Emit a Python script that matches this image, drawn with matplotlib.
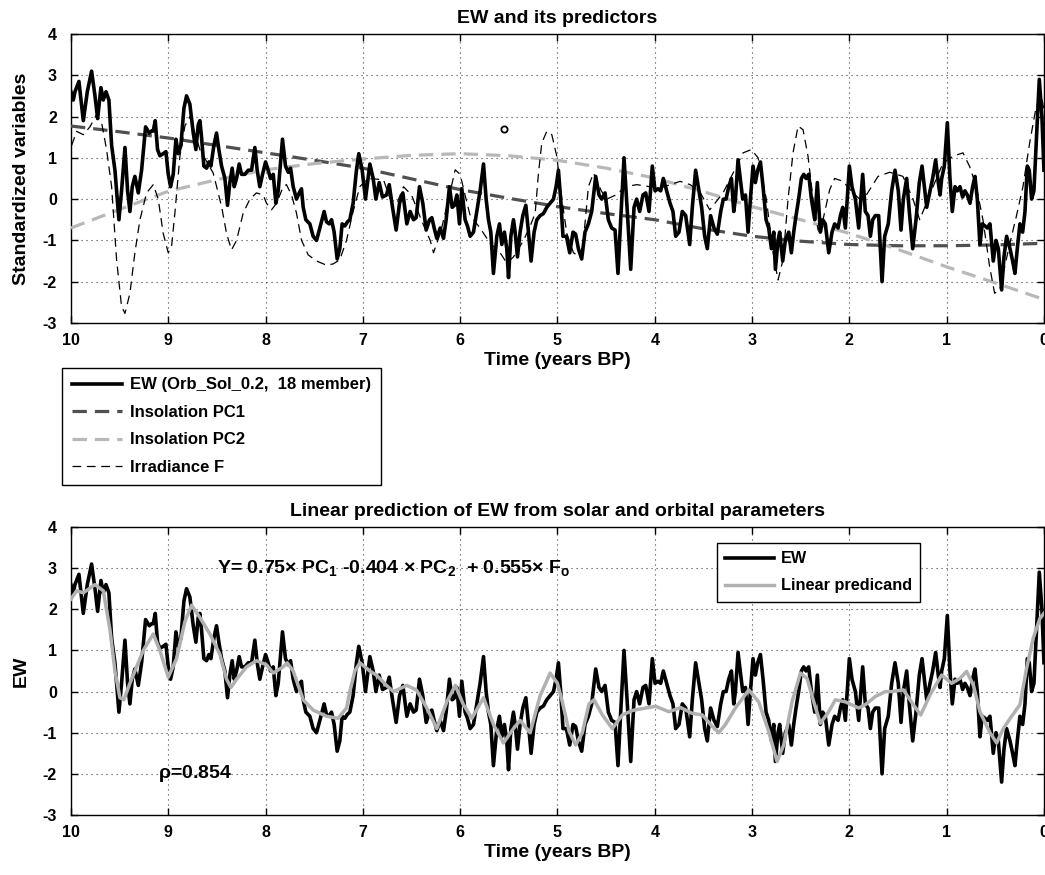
import numpy as np
import matplotlib
matplotlib.use("Agg")
import matplotlib.pyplot as plt

plt.rcParams['font.family'] = ['Liberation Sans', 'DejaVu Sans']
plt.rcParams['font.weight'] = 'bold'
plt.rcParams['mathtext.fontset'] = 'custom'
plt.rcParams['mathtext.rm'] = 'Liberation Sans:bold'
plt.rcParams['mathtext.it'] = 'Liberation Sans:bold'
plt.rcParams['mathtext.bf'] = 'Liberation Sans:bold'
plt.rcParams['mathtext.default'] = 'bf'

# ---- data (time in years BP) ----
ew_t = [10.00, 9.976, 9.959, 9.918, 9.873, 9.832, 9.788, 9.753, 9.726, 9.692, 9.668, 9.640, 9.610,
        9.582, 9.548, 9.507, 9.480, 9.445, 9.418, 9.394, 9.370, 9.343, 9.308, 9.274, 9.233, 9.195,
        9.171, 9.154, 9.134, 9.110, 9.086, 9.052, 9.024, 9.000, 8.976, 8.949, 8.921, 8.897, 8.870,
        8.839, 8.812, 8.778, 8.743, 8.716, 8.692, 8.675, 8.658, 8.634, 8.606, 8.582, 8.562, 8.531,
        8.504, 8.480, 8.452, 8.418, 8.391, 8.367, 8.343, 8.322, 8.298, 8.271, 8.247, 8.213, 8.178,
        8.144, 8.110, 8.086, 8.059, 8.031, 8.000, 7.973, 7.949, 7.921, 7.894, 7.870, 7.826, 7.795,
        7.767, 7.743, 7.716, 7.682, 7.654, 7.631, 7.613, 7.586, 7.545, 7.511, 7.476, 7.442, 7.398,
        7.374, 7.346, 7.322, 7.295, 7.264, 7.237, 7.213, 7.185, 7.158, 7.134, 7.100, 7.066, 7.042,
        7.007, 6.973, 6.928, 6.894, 6.866, 6.832, 6.798, 6.757, 6.729, 6.695, 6.658, 6.623, 6.589,
        6.548, 6.514, 6.479, 6.452, 6.418, 6.384, 6.349, 6.315, 6.291, 6.267, 6.240, 6.205, 6.171,
        6.144, 6.110, 6.082, 6.058, 6.034, 6.007, 5.983, 5.949, 5.925, 5.897, 5.863, 5.829, 5.795,
        5.760, 5.733, 5.709, 5.685, 5.658, 5.623, 5.596, 5.572, 5.545, 5.521, 5.503, 5.479, 5.452,
        5.435, 5.411, 5.384, 5.356, 5.325, 5.298, 5.271, 5.240, 5.212, 5.178, 5.144, 5.110, 5.075,
        5.041, 5.014, 4.990, 4.967, 4.943, 4.908, 4.874, 4.840, 4.813, 4.785, 4.751, 4.717, 4.682,
        4.648, 4.624, 4.607, 4.573, 4.545, 4.511, 4.477, 4.443, 4.408, 4.378, 4.350, 4.316, 4.282,
        4.247, 4.213, 4.186, 4.155, 4.121, 4.093, 4.059, 4.025, 3.997, 3.967, 3.939, 3.912, 3.878,
        3.843, 3.813, 3.785, 3.751, 3.717, 3.682, 3.641, 3.614, 3.580, 3.545, 3.518, 3.487, 3.460,
        3.426, 3.391, 3.357, 3.322, 3.295, 3.267, 3.240, 3.212, 3.188, 3.171, 3.144, 3.116, 3.096,
        3.068, 3.041, 3.017, 2.990, 2.966, 2.942, 2.914, 2.887, 2.856, 2.829, 2.801, 2.777, 2.760,
        2.733, 2.716, 2.685, 2.658, 2.623, 2.596, 2.572, 2.548, 2.521, 2.493, 2.469, 2.445, 2.418,
        2.390, 2.356, 2.329, 2.298, 2.274, 2.247, 2.212, 2.178, 2.151, 2.116, 2.092, 2.068, 2.041,
        2.000, 1.973, 1.938, 1.904, 1.863, 1.836, 1.808, 1.784, 1.760, 1.733, 1.699, 1.664, 1.637,
        1.600, 1.565, 1.531, 1.497, 1.469, 1.445, 1.411, 1.384, 1.349, 1.315, 1.281, 1.253, 1.229,
        1.205, 1.171, 1.144, 1.113, 1.086, 1.068, 1.051, 1.024, 0.993, 0.966, 0.942, 0.914, 0.890,
        0.863, 0.836, 0.812, 0.788, 0.760, 0.733, 0.709, 0.685, 0.658, 0.634, 0.606, 0.582, 0.555,
        0.521, 0.493, 0.469, 0.435, 0.411, 0.384, 0.349, 0.322, 0.298, 0.274, 0.247, 0.219, 0.195,
        0.171, 0.151, 0.127, 0.103, 0.075, 0.048, 0.021, 0.000]
ew_v = [2.6, 2.4, 2.6, 2.85, 1.9, 2.6, 3.1, 2.5, 1.95, 2.7, 2.4, 2.6, 2.4,
        1.3, 0.7, -0.5, 0.2, 1.25, 0.2, -0.3, 0.3, 0.55, 0.15, 0.7, 1.75, 1.6,
        1.65, 1.65, 1.9, 1.2, 1.05, 1.1, 1.15, 0.6, 0.3, 0.6, 1.45, 1.1, 1.3,
        2.2, 2.5, 2.3, 1.6, 1.2, 1.8, 1.9, 1.5, 0.8, 0.75, 0.9, 0.8, 1.3,
        1.6, 1.2, 0.8, 0.5, -0.15, 0.4, 0.75, 0.3, 0.5, 0.85, 0.6, 0.6, 0.7,
        0.7, 1.25, 0.7, 0.3, 0.6, 0.9, 0.7, 0.5, 0.6, -0.1, 0.2, 1.45, 0.8,
        0.65, 0.75, 0.3, 0.0, 0.15, 0.25, -0.2, -0.5, -0.6, -0.9, -1.0, -0.7, -0.3,
        -0.55, -0.6, -0.5, -0.8, -1.45, -1.2, -0.6, -0.65, -0.55, -0.5, -0.1, 0.7, 1.1,
        0.7, 0.0, 0.85, 0.5, 0.0, 0.4, 0.05, 0.1, 0.35, -0.2, -0.75, -0.1, 0.15,
        -0.6, -0.3, -0.5, -0.45, 0.3, -0.1, -0.75, -0.5, -0.45, -0.7, -0.95, -0.7, -0.95,
        -0.5, 0.3, -0.2, -0.15, 0.1, -0.6, 0.25, -0.5, -0.65, -0.9, -0.8, -0.3, 0.2,
        0.85, 0.0, -0.5, -0.8, -1.8, -0.9, -0.6, -1.1, -0.8, -1.2, -1.9, -0.9, -0.5,
        -0.8, -1.4, -0.8, -0.4, -0.15, -0.8, -1.5, -0.8, -0.5, -0.4, -0.35, -0.2, -0.1,
        0.0, 0.3, 0.7, 0.0, -0.9, -0.9, -1.3, -0.8, -0.85, -1.2, -1.45, -0.8, -0.6,
        -0.3, 0.2, 0.55, 0.1, 0.0, 0.15, -0.5, -0.7, -0.75, -1.8, -0.5, 1.0, -0.3,
        -1.7, -0.2, 0.0, -0.3, 0.1, 0.15, -0.3, 0.8, 0.2, 0.25, 0.2, 0.5, 0.2,
        -0.1, -0.3, -0.9, -0.8, -0.3, -0.4, -1.1, -0.2, 0.7, 0.2, -0.2, -0.9, -1.2,
        -0.4, -0.7, -0.85, -0.3, 0.0, 0.0, 0.3, 0.5, -0.3, 0.0, 0.95, 0.4, 0.0,
        0.1, -0.8, 0.0, 0.8, 0.4, 0.7, 0.9, 0.3, -0.5, -0.7, -1.2, -0.8, -1.7,
        -1.0, -0.8, -1.5, -1.0, -0.8, -1.3, -0.8, -0.4, 0.0, 0.5, 0.6, 0.5, 0.6,
        0.0, -0.5, 0.4, -0.8, -0.5, -0.6, -1.3, -0.8, -0.6, -0.7, -0.4, -0.2, -0.7,
        0.8, 0.3, 0.0, -0.7, 0.6, -0.3, -0.4, -0.9, -0.5, -0.4, -0.4, -2.0, -0.9,
        -0.6, 0.2, 0.7, 0.2, -0.75, 0.0, 0.5, -0.3, -1.2, -0.5, 0.4, 0.8, 0.3,
        -0.2, 0.2, 0.5, 0.95, 0.4, 0.1, 0.5, 0.8, 1.85, 0.5, -0.3, 0.3, 0.2,
        0.3, 0.05, 0.2, 0.1, -0.1, 0.3, 0.55, 0.0, -1.1, -0.6, -0.65, -0.7, -0.6,
        -1.5, -1.0, -1.2, -2.2, -1.4, -0.9, -1.2, -1.5, -1.8, -1.2, -0.6, -0.8, -0.3,
        0.8, 0.7, 0.0, 0.2, 1.6, 2.9, 2.0, 0.7]

pc_t = [10, 9.5, 9, 8.5, 8, 7.5, 7, 6.5, 6, 5.5, 5, 4.5, 4, 3.5, 3, 2.5, 2, 1.5, 1, 0.5, 0]
pc1_v = [1.77, 1.63, 1.48, 1.3, 1.12, 0.94, 0.75, 0.49, 0.23, 0.02, -0.18, -0.35, -0.5, -0.72,
         -0.9, -1.02, -1.1, -1.13, -1.13, -1.11, -1.07]
pc2_v = [-0.7, -0.25, 0.19, 0.47, 0.71, 0.86, 0.97, 1.06, 1.1, 1.05, 0.94, 0.75, 0.51, 0.18,
         -0.18, -0.5, -0.83, -1.22, -1.64, -2.03, -2.43]

f_t = [9.993, 9.942, 9.873, 9.805, 9.736, 9.685, 9.634, 9.582, 9.531, 9.480, 9.445, 9.394, 9.343,
       9.291, 9.223, 9.154, 9.103, 9.052, 9.000, 8.966, 8.932, 8.880, 8.829, 8.778, 8.726, 8.675,
       8.538, 8.452, 8.401, 8.350, 8.298, 8.230, 8.161, 8.093, 8.024, 7.990, 7.939, 7.887, 7.819,
       7.785, 7.733, 7.682, 7.630, 7.562, 7.476, 7.374, 7.305, 7.237, 7.168, 7.100, 7.031, 6.950,
       6.788, 6.719, 6.650, 6.582, 6.500, 6.400, 6.308, 6.274, 6.200, 6.120, 6.051, 6.000, 5.950,
       5.897, 5.795, 5.692, 5.589, 5.521, 5.452, 5.349, 5.281, 5.229, 5.195, 5.161, 5.110, 5.058,
       5.007, 4.955, 4.904, 4.836, 4.767, 4.733, 4.682, 4.630, 4.550, 4.493, 4.400, 4.300, 4.185,
       4.050, 3.945, 3.840, 3.740, 3.637, 3.540, 3.435, 3.298, 3.195, 3.092, 3.007, 2.938, 2.853,
       2.784, 2.733, 2.682, 2.630, 2.579, 2.527, 2.476, 2.425, 2.373, 2.322, 2.271, 2.202, 2.151,
       2.065, 1.962, 1.894, 1.825, 1.705, 1.586, 1.449, 1.346, 1.277, 1.209, 1.140, 1.038, 0.935,
       0.832, 0.764, 0.695, 0.627, 0.558, 0.507, 0.455, 0.404, 0.353, 0.284, 0.216, 0.147, 0.079,
       0.027, 0.003]
f_v = [1.3, 1.64, 1.56, 1.75, 2.05, 1.85, 1.2, 0.3, -1.47, -2.6, -2.77, -2.28, -1.3,
       -0.5, 0.15, 0.35, 0.0, -0.83, -1.3, -1.15, -0.34, 1.04, 1.77, 2.0, 1.6, 1.2,
       0.63, -0.18, -0.83, -1.23, -1.0, -0.34, 0.0, 0.15, 0.1, -0.1, -0.26, -0.1, 0.3,
       0.35, 0.1, -0.34, -1.0, -1.35, -1.5, -1.6, -1.57, -1.47, -1.0, -0.3, 0.3, 0.5,
       0.47, 0.0, -0.1, 0.3, 0.1, -0.5, -1.0, -1.3, -0.8, 0.0, 0.71, 0.6, 0.1,
       -0.4, -0.7, -1.07, -1.3, -1.55, -1.4, -1.0, -0.66, -0.34, 0.63, 1.36, 1.64, 1.56,
       1.04, 0.0, -0.83, -1.3, -1.4, -1.0, 0.3, 0.63, 0.2, 0.0, 0.1, 0.3, 0.35,
       0.3, 0.27, 0.35, 0.43, 0.35, 0.19, -0.26, 0.15, 0.63, 1.12, 1.2, 1.0, 0.0,
       -1.3, -1.96, -1.47, 0.0, 1.12, 1.77, 1.68, 1.04, 0.0, -0.75, -0.5, 0.23, 0.5,
       0.43, 0.15, 0.0, 0.1, 0.55, 0.65, 0.55, 0.0, -0.5, -0.1, 0.3, 0.87, 1.04,
       1.12, 0.79, 0.3, -0.5, -1.64, -2.28, -2.2, -1.64, -1.1, -0.42, 0.3, 1.36, 2.25,
       2.5, 2.2]

pred_t = [10.00, 9.942, 9.873, 9.753, 9.668, 9.599, 9.548, 9.497, 9.456, 9.394, 9.325, 9.257, 9.154,
          9.086, 9.000, 8.915, 8.829, 8.760, 8.675, 8.572, 8.469, 8.401, 8.356, 8.298, 8.196, 8.093,
          7.990, 7.922, 7.819, 7.778, 7.716, 7.613, 7.511, 7.374, 7.254, 7.168, 7.134, 7.082, 7.031,
          6.928, 6.860, 6.757, 6.685, 6.548, 6.450, 6.342, 6.240, 6.137, 6.050, 5.970, 5.880, 5.760,
          5.658, 5.555, 5.452, 5.384, 5.281, 5.178, 5.075, 5.000, 4.950, 4.880, 4.813, 4.744, 4.676,
          4.624, 4.538, 4.436, 4.333, 4.230, 4.093, 3.990, 3.854, 3.734, 3.614, 3.510, 3.408, 3.342,
          3.274, 3.171, 3.034, 2.932, 2.829, 2.743, 2.675, 2.589, 2.503, 2.435, 2.366, 2.298, 2.212,
          2.144, 2.041, 1.904, 1.836, 1.733, 1.630, 1.565, 1.445, 1.342, 1.267, 1.171, 1.051, 0.949,
          0.863, 0.795, 0.726, 0.658, 0.555, 0.486, 0.418, 0.332, 0.247, 0.178, 0.110, 0.041, 0.000]
pred_v = [2.25, 2.45, 2.4, 2.6, 2.45, 1.5, 0.5, -0.15, -0.2, 0.2, 0.6, 1.0, 1.4,
          1.0, 0.35, 0.8, 1.7, 2.1, 1.8, 1.4, 0.9, 0.3, 0.1, 0.3, 0.6, 0.75,
          0.65, 0.45, 0.6, 0.7, 0.5, -0.2, -0.45, -0.6, -0.65, -0.4, 0.0, 0.5, 0.7,
          0.5, 0.4, 0.15, 0.0, 0.15, 0.04, -0.4, -0.9, -0.25, 0.15, -0.3, -0.65, -0.15,
          -0.8, -1.25, -0.9, -0.7, -1.0, -0.1, 0.45, 0.2, -0.25, -0.97, -1.3, -1.0, -0.3,
          -0.2, -0.57, -0.9, -0.57, -0.46, -0.4, -0.36, -0.49, -0.39, -0.53, -0.57, -0.85, -1.0,
          -0.8, -0.4, 0.04, -0.25, -0.97, -1.7, -1.3, -0.25, 0.45, 0.32, -0.25, -0.77, -0.49,
          -0.2, -0.25, -0.4, -0.32, -0.12, 0.0, 0.0, 0.04, -0.32, -0.57, -0.08, 0.4, 0.2,
          0.32, 0.49, 0.16, -0.49, -1.0, -1.25, -0.9, -0.6, -0.32, 0.57, 1.3, 1.78, 1.9]

stray_t = [5.55]
stray_v = [1.7]

xticks = [10, 9, 8, 7, 6, 5, 4, 3, 2, 1, 0]
yticks = [-3, -2, -1, 0, 1, 2, 3, 4]

PC1_COL = '#505050'
PC2_COL = '#b8b8b8'
PRED_COL = '#b0b0b0'


def style_axes(ax, ylabel):
    ax.set_xlim(10, 0)
    ax.set_ylim(-3, 4)
    ax.set_xticks(xticks)
    ax.set_xticklabels([str(t) for t in xticks])
    ax.set_yticks(yticks)
    ax.set_yticklabels([str(t) for t in yticks])
    ax.grid(True, color='0.25', linestyle=(0, (1, 3.5)), linewidth=0.8)
    ax.tick_params(direction='in', top=True, right=True, length=5, width=1,
                   labelsize=11.5, pad=7)
    ax.tick_params(axis='y', pad=10)
    for s in ax.spines.values():
        s.set_linewidth(1.0)
    ax.set_ylabel(ylabel, fontsize=14, fontweight='bold', labelpad=9)
    ax.set_xlabel('Time (years BP)', fontsize=14, fontweight='bold', labelpad=3)
    for lab in ax.get_xticklabels() + ax.get_yticklabels():
        lab.set_fontweight('bold')


fig = plt.figure(figsize=(10.45, 8.75), dpi=100)
ax1 = fig.add_axes([0.0679, 0.6309, 0.9311, 0.3303])
ax2 = fig.add_axes([0.0679, 0.0686, 0.9311, 0.3291])

# top panel
l_ew, = ax1.plot(ew_t, ew_v, color='black', lw=2.6, solid_joinstyle='round', zorder=4)
l_pc1, = ax1.plot(pc_t, pc1_v, color=PC1_COL, lw=2.3, linestyle=(0, (4.5, 2.5)), zorder=3)
l_pc2, = ax1.plot(pc_t, pc2_v, color=PC2_COL, lw=2.3, linestyle=(0, (4.5, 2.5)), zorder=3)
l_f, = ax1.plot(f_t, f_v, color='black', lw=0.9, linestyle=(0, (7, 4.5)), zorder=3)
ax1.plot(stray_t, stray_v, 'o', ms=4.5, mfc='none', mec='black', mew=1.3)
style_axes(ax1, 'Standardized variables')
ax1.set_title('EW and its predictors', fontsize=14, fontweight='bold', pad=8)

leg1 = fig.legend([l_ew, l_pc1, l_pc2, l_f],
                  ['EW (Orb_Sol_0.2,  18 member)', 'Insolation PC1', 'Insolation PC2', 'Irradiance F'],
                  loc='lower left', bbox_to_anchor=(62 / 1045, 1 - 485 / 875),
                  borderaxespad=0, fancybox=False, edgecolor='black', framealpha=1,
                  prop={'size': 12, 'weight': 'bold'}, handlelength=3.0, handletextpad=0.45,
                  labelspacing=0.75, borderpad=0.6)
leg1.get_frame().set_linewidth(1.0)

# bottom panel
b_ew, = ax2.plot(ew_t, ew_v, color='black', lw=2.6, solid_joinstyle='round', zorder=3)
b_pred, = ax2.plot(pred_t, pred_v, color=PRED_COL, lw=2.5, solid_joinstyle='round', zorder=4)
style_axes(ax2, 'EW')
ax2.set_title('Linear prediction of EW from solar and orbital parameters',
              fontsize=14, fontweight='bold', pad=8)
ax2.text(8.5, 3.0, r'Y= 0.75$\times$ PC$_1$ -0.404 $\times$ PC$_2$  + 0.555$\times$ F$_o$',
         fontsize=14, fontweight='bold', ha='left', va='center')
ax2.text(9.11, -2.0, r'$\rho$=0.854', fontsize=14, fontweight='bold', ha='left', va='center')
leg2 = ax2.legend([b_ew, b_pred], ['EW', 'Linear predicand'],
                  loc='upper left', bbox_to_anchor=(0.664, 0.944), borderaxespad=0,
                  fancybox=False, edgecolor='black', framealpha=1,
                  prop={'size': 11.7, 'weight': 'bold'}, handlelength=3.0,
                  handletextpad=0.45, labelspacing=0.75, borderpad=0.5)
leg2.get_frame().set_linewidth(1.0)

fig.savefig('out.png', dpi=100)
